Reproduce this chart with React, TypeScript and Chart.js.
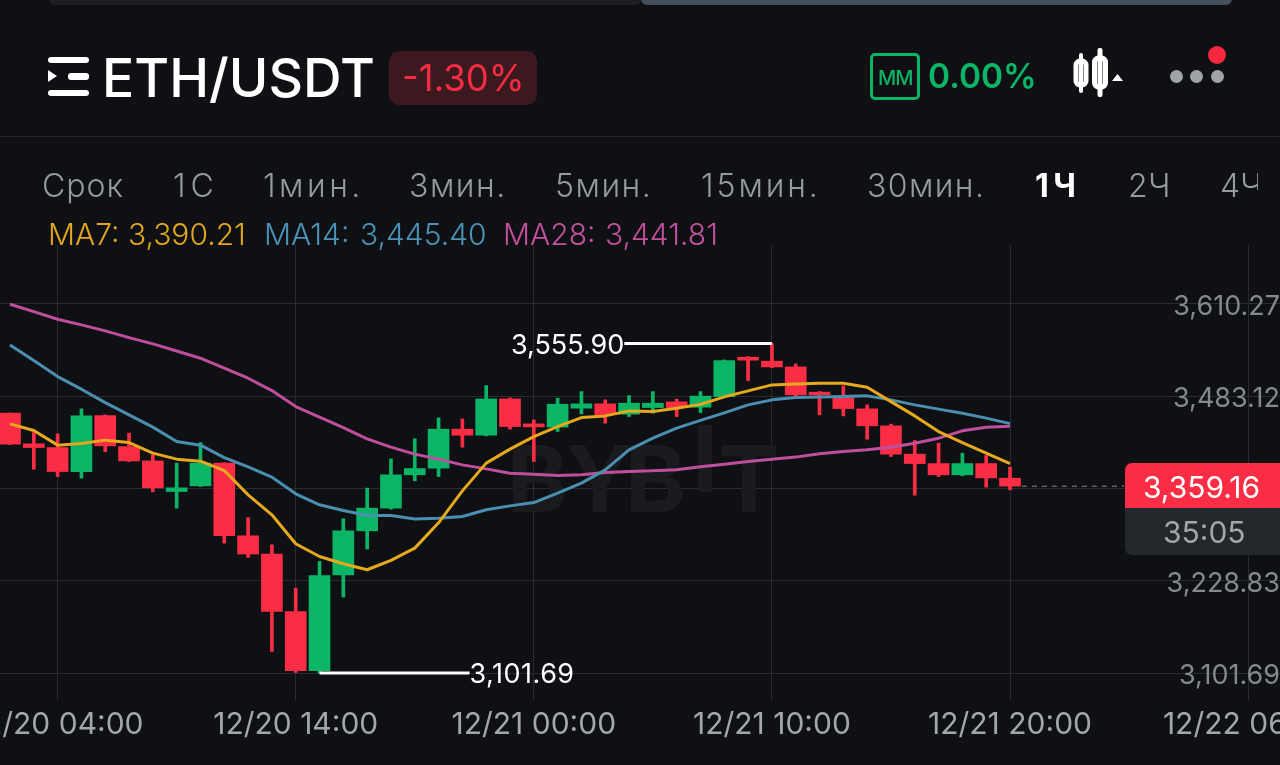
import React, { useEffect, useRef } from "react";
import { Chart, registerables } from "chart.js";

Chart.register(...registerables);

const opens = [3459.8,3417.5,3412.4,3379.3,3456.4,3413.7,3394.0,3351.8,3359.6,3390.9,3290.8,3265.6,3186.5,3104.8,3237.0,3297.6,3328.9,3374.8,3384.0,3437.7,3429.4,3479.4,3445.0,3440.5,3466.6,3472.6,3458.4,3467.5,3475.3,3468.0,3482.6,3536.9,3531.4,3523.5,3488.7,3480.8,3465.7,3442.3,3403.3,3390.3,3374.8,3390.3,3370.2];
const closes = [3417.1,3412.4,3379.3,3456.0,3414.7,3394.0,3356.9,3356.9,3390.9,3290.8,3265.6,3186.5,3104.8,3236.1,3297.6,3328.9,3374.8,3383.5,3437.7,3429.4,3479.4,3441.3,3440.9,3472.1,3472.6,3457.8,3473.5,3473.5,3467.5,3483.2,3532.2,3532.8,3523.5,3485.0,3485.0,3466.1,3442.3,3403.3,3390.3,3374.8,3390.3,3370.6,3359.16];
const highs = [3460.0,3433.0,3431.2,3465.7,3457.4,3432.2,3402.3,3390.9,3419.3,3391.5,3316.0,3278.4,3218.7,3255.4,3314.2,3356.5,3396.8,3424.4,3453.3,3451.9,3497.8,3480.8,3450.5,3480.4,3489.5,3478.1,3484.0,3489.5,3479.0,3489.5,3533.1,3537.7,3555.9,3527.6,3489.5,3497.3,3471.2,3444.6,3422.0,3418.4,3404.6,3401.4,3385.4];
const lows = [3416.5,3382.6,3372.4,3370.2,3406.8,3393.1,3351.4,3328.9,3358.7,3280.7,3260.9,3131.4,3102.5,3101.69,3206.3,3272.5,3327.5,3366.5,3372.4,3412.9,3428.5,3437.7,3393.1,3434.4,3458.8,3446.0,3455.1,3459.7,3455.1,3460.6,3482.2,3504.6,3522.5,3482.6,3457.4,3456.0,3423.9,3400.0,3346.8,3372.4,3373.4,3357.8,3354.1];

const ma7 = [3445.0,3435.8,3415.7,3417.9,3422.6,3419.3,3404.7,3396.4,3393.6,3380.7,3347.2,3319.7,3279.8,3262.3,3252.2,3244.0,3256.8,3273.8,3308.7,3352.7,3390.9,3410.2,3427.5,3441.3,3453.7,3456.0,3462.9,3462.0,3466.6,3471.9,3482.2,3490.5,3498.7,3500.1,3501.1,3501.1,3495.5,3475.7,3456.0,3434.4,3419.3,3404.7,3390.21];
const ma14 = [3553.8,3532.2,3510.2,3492.8,3474.3,3457.4,3440.5,3420.6,3415.7,3398.5,3385.8,3371.6,3348.6,3333.5,3325.6,3318.7,3318.7,3313.8,3315.1,3317.3,3326.6,3332.0,3336.6,3349.6,3363.4,3381.7,3409.2,3425.3,3439.1,3449.8,3460.2,3471.2,3478.1,3481.2,3482.2,3482.6,3483.6,3478.1,3471.2,3465.3,3459.7,3452.9,3445.4];
const ma28 = [3609.9,3599.7,3589.2,3581.4,3573.1,3563.9,3555.2,3545.5,3535.5,3521.7,3507.9,3490.9,3468.8,3454.2,3439.9,3424.3,3412.9,3403.3,3396.4,3388.5,3383.0,3377.1,3375.7,3373.8,3374.8,3378.0,3379.3,3380.3,3381.7,3385.8,3389.5,3393.1,3396.4,3399.2,3403.7,3406.9,3409.2,3412.9,3418.4,3425.3,3435.4,3440.5,3441.81];

const xTickIndex = [2, 12, 22, 32, 42, 52];
const xTickLabels = ["12/20 04:00", "12/20 14:00", "12/21 00:00", "12/21 10:00", "12/21 20:00", "12/22 06:00"];
const yTickValues = [3101.69, 3228.83, 3356, 3483.12, 3610.27];
const yTickLabels = ["3,101.69", "3,228.83", "", "3,483.12", "3,610.27"];
const highMark = { value: 3555.9, text: "3,555.90", from: 25.8, to: 32 };
const lowMark = { value: 3101.69, text: "3,101.69", from: 13, to: 19.3 };
const lastPrice = { value: 3359.16, from: 42.5, to: 46.8 };

const tabs: [string, number, boolean, number][] = [
  ["Срок", 42, false, 1], ["1С", 173, false, 5], ["1мин.", 263, false, 3.5], ["3мин.", 409, false, 1.5], ["5мин.", 555, false, 1.5],
  ["15мин.", 701, false, 2.9], ["30мин.", 867, false, 1.4], ["1Ч", 1035, true, 4.5], ["2Ч", 1128, false, 0.5], ["4Ч", 1220, false, 0],
];
const maLegend: [string, number, string][] = [
  ["MA7:", 48, "#e3a61e"], ["3,390.21", 128, "#e3a61e"],
  ["MA14:", 264, "#4a93b6"], ["3,445.40", 360, "#4a93b6"],
  ["MA28:", 503, "#c2509e"], ["3,441.81", 605, "#c2509e"],
];
const watermark: [string, number, number][] = [["B", 507, 0], ["Y", 566, 0], ["B", 625, 0], ["I", 692, -20], ["T", 718, 0]];

const BG = "#0f1014";
const RED = "#fb2d44";
const GREEN = "#0bb565";
const GRID = "#2a2b30";
const FONT = "Inter, 'Noto Sans', sans-serif";

const T = ({ x, cy, size, color, weight = 400, children, ls = 0, font = FONT }: any) => (
  <span style={{ position: "absolute", left: x, top: cy - size, height: size * 2, lineHeight: `${size * 2}px`, fontSize: size, color, fontWeight: weight, letterSpacing: ls, fontFamily: font, whiteSpace: "nowrap" }}>{children}</span>
);
const Box = ({ x, y, w, h, c, r = 0, extra = {} }: any) => (
  <div style={{ position: "absolute", left: x, top: y, width: w, height: h, background: c, borderRadius: r, ...extra }} />
);

const overlayPlugin = {
  id: "overlayText",
  beforeDatasetsDraw(chart: any) {
    const { ctx } = chart;
    ctx.save();
    ctx.font = `700 92px ${FONT}`;
    ctx.fillStyle = "#1a1b1f";
    ctx.textAlign = "left";
    ctx.textBaseline = "middle";
    watermark.forEach(([c, x, dy]) => ctx.fillText(c, x, 484 + dy));
    ctx.restore();
  },
  afterDatasetsDraw(chart: any) {
    const { ctx, scales } = chart;
    ctx.save();
    ctx.font = `400 27px ${FONT}`;
    ctx.fillStyle = "#ffffff";
    ctx.textBaseline = "middle";
    ctx.textAlign = "right";
    ctx.fillText(highMark.text, scales.x.getPixelForValue(highMark.from) - 0, scales.y.getPixelForValue(highMark.value) + 2);
    ctx.textAlign = "left";
    (ctx as any).letterSpacing = "0.5px";
    ctx.fillText(lowMark.text, scales.x.getPixelForValue(lowMark.to), scales.y.getPixelForValue(lowMark.value) + 2);
    ctx.restore();
  },
};

export default function App() {
  const ref = useRef<HTMLCanvasElement | null>(null);
  useEffect(() => {
    document.body.style.margin = "0";
    document.body.style.background = BG;
    const idx = opens.map((_, i) => i);
    const colors = idx.map((i) => (closes[i] >= opens[i] ? GREEN : RED));
    const line = (values: number[], color: string, order: number) => ({
      type: "line", data: values.map((y, i) => ({ x: i, y })), borderColor: color, borderWidth: 3,
      pointRadius: 0, tension: 0, order, borderJoinStyle: "round",
    });
    const mark = (m: any, color: string, width: number, order: number, dash: number[] = []) => ({
      type: "line", data: [{ x: m.from, y: m.value }, { x: m.to, y: m.value }], borderColor: color, borderWidth: width,
      pointRadius: 0, order, borderDash: dash,
    });
    const chart = new Chart(ref.current as any, {
      type: "bar",
      data: {
        datasets: [
          { type: "bar", data: idx.map((i) => ({ x: i, y: [lows[i], highs[i]] })), backgroundColor: colors, barThickness: 3, grouped: false, order: 7 },
          { type: "bar", data: idx.map((i) => ({ x: i, y: [opens[i], closes[i]] })), backgroundColor: colors, barThickness: 21, grouped: false, order: 6, minBarLength: 2 },
          line(ma28, "#bf4f9c", 3),
          line(ma14, "#4a8fb0", 2),
          line(ma7, "#e6a81c", 1),
          mark(lastPrice, "#8a8d92", 1, 5, [5, 5]),
          mark(highMark, "#ffffff", 3, 0),
          mark(lowMark, "#ffffff", 3, 0),
        ] as any,
      },
      options: {
        animation: false,
        responsive: false,
        layout: { padding: { top: 245, left: 0, right: 0, bottom: 0 } },
        plugins: { legend: { display: false }, tooltip: { enabled: false } },
        scales: {
          x: {
            type: "linear", offset: false, min: -0.42, max: 53.34,
            grid: { color: GRID, drawTicks: false, lineWidth: 1, offset: false }, border: { display: false },
            afterBuildTicks: (s: any) => { s.ticks = xTickIndex.map((value) => ({ value })); },
            afterFit: (s: any) => { s.paddingLeft = 0; s.paddingRight = 0; s.height = 65; },
            ticks: {
              autoSkip: false, maxRotation: 0, minRotation: 0, padding: 7, color: "#a3a6ab",
              font: { family: FONT, size: 30 },
              callback: (v: any) => xTickLabels[xTickIndex.indexOf(v)] ?? "",
            },
          },
          y: {
            type: "linear", position: "right", min: 3064.5, max: 3691.5,
            grid: { color: GRID, drawTicks: false, lineWidth: 1 }, border: { display: false },
            afterBuildTicks: (s: any) => { s.ticks = yTickValues.map((value) => ({ value })); },
            afterFit: (s: any) => { s.width = 0; s.paddingTop = 0; s.paddingBottom = 0; },
            ticks: {
              mirror: true, padding: 0, labelOffset: 3, color: "#85888e",
              font: { family: FONT, size: 27 },
              callback: (v: any) => yTickLabels[yTickValues.indexOf(v)] ?? "",
            },
          },
        },
      },
      plugins: [overlayPlugin],
    } as any);
    return () => chart.destroy();
  }, []);

  return (
    <div style={{ position: "fixed", left: 0, top: 0, width: 1280, height: 765, overflow: "hidden", background: BG }}>
      <canvas ref={ref} width={1280} height={765} style={{ position: "absolute", left: 0, top: 0, display: "block" }} />
      {/* top strip */}
      <Box x={49} y={-10} w={592} h={15} c="#1d1e23" r={6} />
      <Box x={641} y={-10} w={591} h={15} c="#464d5b" r={6} />
      {/* header */}
      <Box x={48} y={57} w={41} h={6} c="#fff" r={3} />
      <Box x={68} y={73} w={21} h={7} c="#fff" r={3} />
      <Box x={48} y={90} w={41} h={6} c="#fff" r={3} />
      <div style={{ position: "absolute", left: 48, top: 70, width: 0, height: 0, borderTop: "6.5px solid transparent", borderBottom: "6.5px solid transparent", borderLeft: "9px solid #fff" }} />
      <T x={102} cy={77} size={53.5} color="#fff" weight={500}>ETH/USDT</T>
      <Box x={389} y={51} w={148} h={54} c="#3c191e" r={10} />
      <T x={402} cy={78} size={36.5} color="#f52c42">-1.30%</T>
      <Box x={0} y={136} w={1280} h={1} c="#26272c" />
      <div style={{ position: "absolute", left: 870, top: 53, width: 50, height: 47, boxSizing: "border-box", border: "3px solid #0bb565", borderRadius: 5 }} />
      <T x={878} cy={78} size={20} color="#0bb565" weight={500} ls={-1}>MM</T>
      <T x={928} cy={76} size={33.5} color="#0bb565" weight={600}>0.00%</T>
      <svg width={60} height={60} style={{ position: "absolute", left: 1070, top: 45 }}>
        <rect x={9} y={8} width={4} height={40} rx={2} fill="#fff" />
        <rect x={6} y={16} width={10} height={24} rx={4} fill="none" stroke="#fff" strokeWidth={5} />
        <rect x={27.5} y={3} width={5} height={49} rx={2} fill="#fff" />
        <rect x={24.5} y={13} width={11} height={29} rx={4} fill="none" stroke="#fff" strokeWidth={5} />
        <polygon points="42,36 53,36 47.5,29" fill="#fff" />
      </svg>
      <Box x={1170} y={70} w={13} h={13} c="#a0a3a8" r={7} />
      <Box x={1190} y={70} w={13} h={13} c="#a0a3a8" r={7} />
      <Box x={1211} y={70} w={13} h={13} c="#a0a3a8" r={7} />
      <Box x={1208} y={46} w={18} h={18} c="#f5283f" r={9} />
      {/* tabs */}
      {tabs.map(([t, x, active, ls]) => (
        <T key={t} x={x} cy={186} size={32} color={active ? "#fff" : "#96999f"} weight={active ? 700 : 300} ls={ls}>{t}</T>
      ))}
      <Box x={1241} y={190} w={39} h={16} c={BG} />
      <Box x={1258} y={165} w={22} h={41} c={BG} />
      {/* MA legend */}
      {maLegend.map(([t, x, c]) => (
        <T key={t} x={x} cy={234} size={30} color={c} weight={300}>{t}</T>
      ))}
      {/* price tag */}
      <Box x={1125} y={463} w={165} h={45} c="#fb2d44" r="7px 0 0 0" />
      <Box x={1125} y={508} w={165} h={47} c="#24272c" r="0 0 0 7px" />
      <T x={1143} cy={487} size={30} color="#fff">3,359.16</T>
      <T x={1163} cy={532} size={30} color="#a2a5aa">35:05</T>
    </div>
  );
}
